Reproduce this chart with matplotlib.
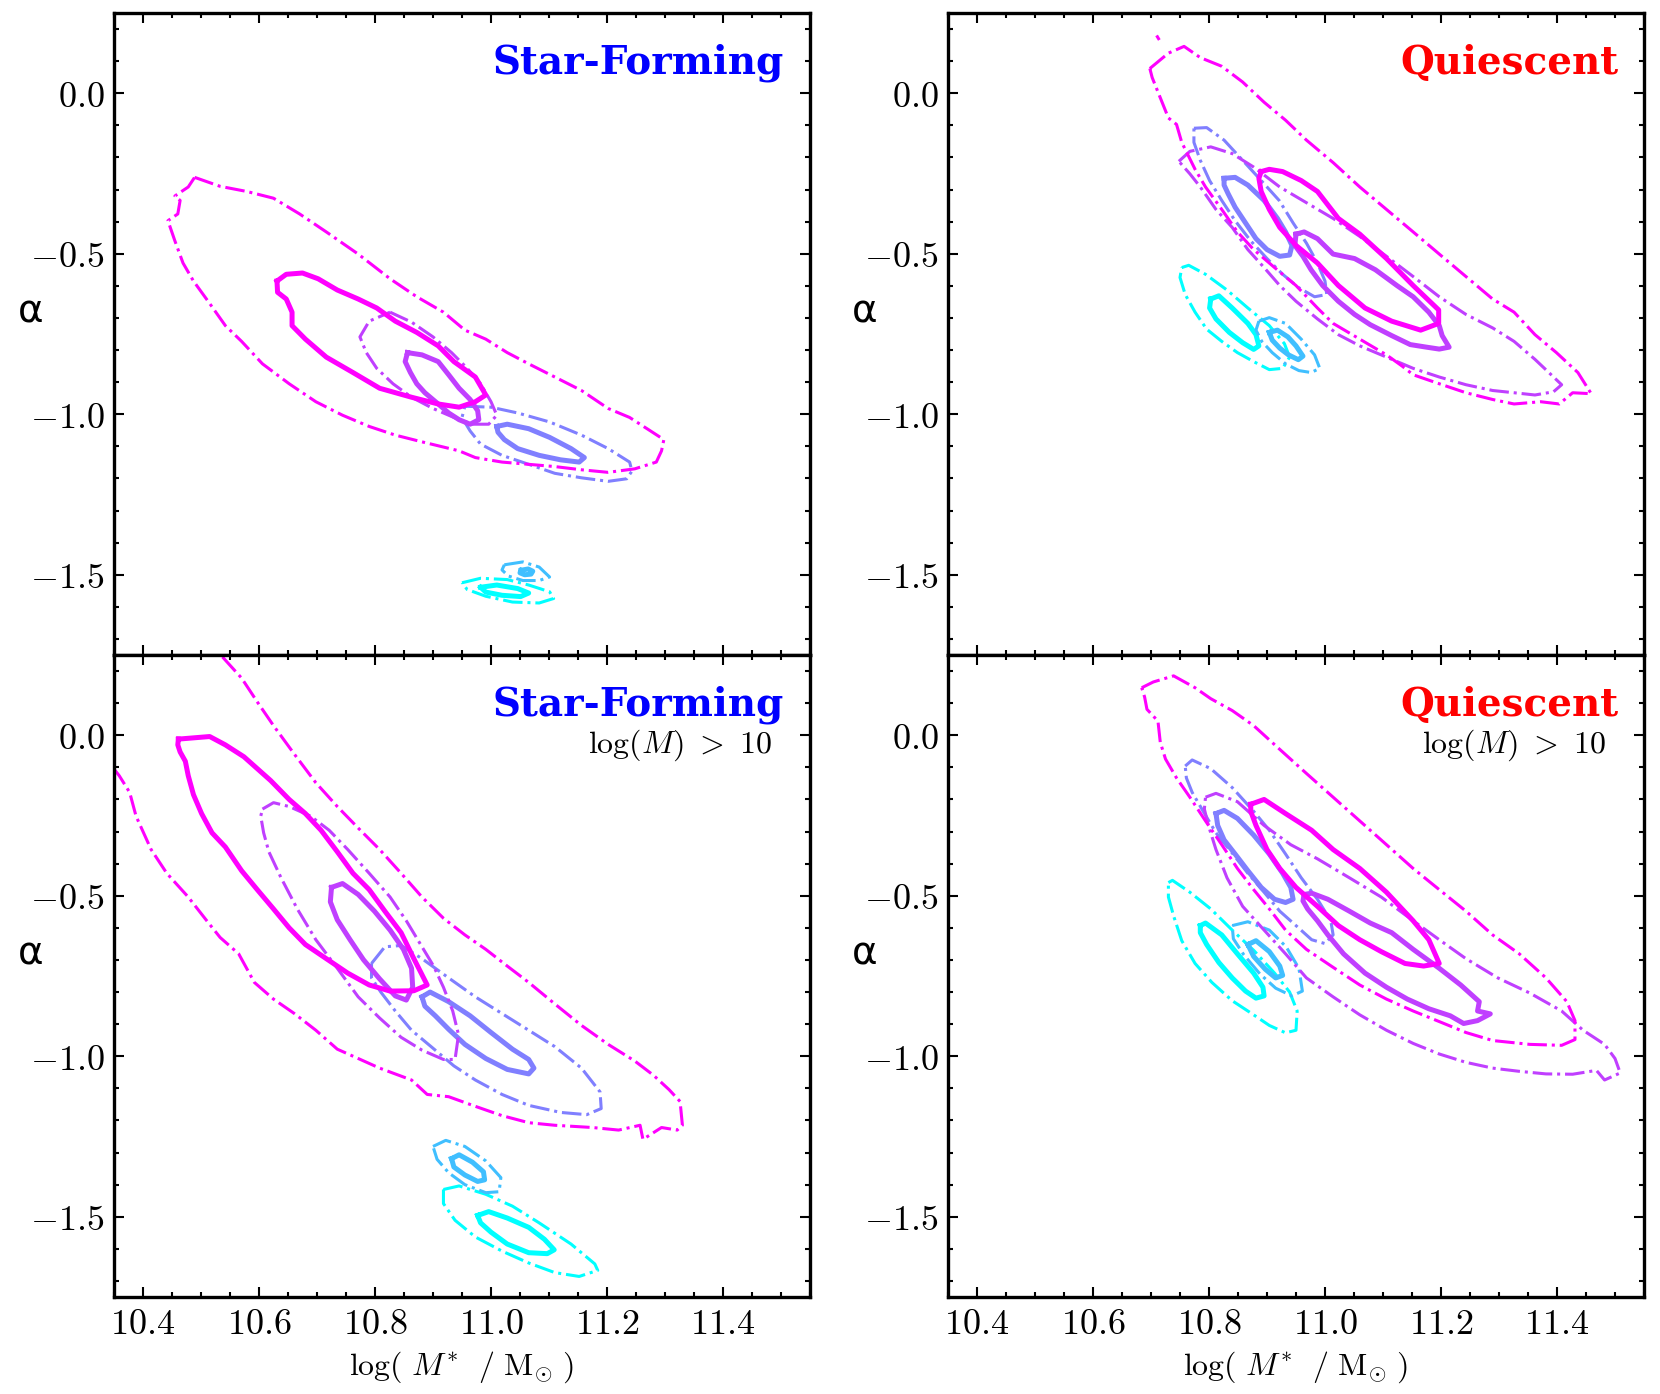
import numpy as np
import matplotlib
matplotlib.use("Agg")
import matplotlib.pyplot as plt
from matplotlib.ticker import MultipleLocator, FuncFormatter

plt.rcParams['mathtext.fontset'] = 'cm'

# contour outlines as (log M*, alpha) pairs
# colour index 0 (cyan) ... 4 (magenta); "in" = solid (inner), "out" = dash-dot (outer)

# --- star-forming, all masses ---
sf_out_0 = [(10.950, -1.525), (10.982, -1.511), (11.028, -1.515), (11.065, -1.532), (11.101, -1.553),
            (11.108, -1.574), (11.083, -1.588), (11.037, -1.585), (10.991, -1.567), (10.959, -1.546)]
sf_in_0 = [(10.982, -1.539), (11.010, -1.532), (11.046, -1.543), (11.065, -1.557), (11.051, -1.568),
           (11.019, -1.564), (10.991, -1.554)]
sf_out_1 = [(11.023, -1.469), (11.055, -1.460), (11.083, -1.476), (11.101, -1.507), (11.083, -1.518),
            (11.055, -1.518), (11.030, -1.504), (11.019, -1.485)]
sf_in_1 = [(11.052, -1.486), (11.064, -1.482), (11.072, -1.489), (11.069, -1.498), (11.058, -1.500),
           (11.050, -1.494)]
sf_out_2 = [(10.955, -0.975), (11.000, -0.978), (11.046, -0.996), (11.101, -1.024), (11.156, -1.065),
            (11.202, -1.107), (11.239, -1.149), (11.243, -1.177), (11.234, -1.201), (11.202, -1.209),
            (11.156, -1.198), (11.110, -1.184), (11.065, -1.156), (11.019, -1.128), (10.982, -1.093),
            (10.964, -1.052), (10.950, -1.010)]
sf_in_2 = [(11.010, -1.038), (11.028, -1.031), (11.065, -1.045), (11.101, -1.072), (11.138, -1.107),
           (11.161, -1.135), (11.152, -1.149), (11.120, -1.142), (11.083, -1.128), (11.046, -1.107),
           (11.023, -1.079), (11.012, -1.056)]
sf_out_3 = [(10.826, -0.682), (10.863, -0.713), (10.900, -0.759), (10.932, -0.808), (10.959, -0.857),
            (10.982, -0.905), (11.000, -0.961), (11.010, -1.003), (10.996, -1.031), (10.968, -1.031),
            (10.936, -1.010), (10.900, -0.982), (10.863, -0.947), (10.831, -0.905), (10.803, -0.857),
            (10.785, -0.808), (10.774, -0.759), (10.790, -0.710)]
sf_in_3 = [(10.856, -0.808), (10.881, -0.815), (10.909, -0.836), (10.927, -0.877), (10.945, -0.919),
           (10.964, -0.954), (10.977, -0.989), (10.979, -1.017), (10.964, -1.031), (10.945, -1.017),
           (10.927, -0.996), (10.909, -0.968), (10.886, -0.933), (10.872, -0.905), (10.861, -0.870),
           (10.852, -0.836)]
sf_out_4 = [(10.489, -0.262), (10.533, -0.290), (10.579, -0.306), (10.625, -0.327), (10.670, -0.376),
            (10.716, -0.432), (10.771, -0.501), (10.826, -0.578), (10.872, -0.634), (10.918, -0.682),
            (10.955, -0.738), (10.991, -0.766), (11.028, -0.808), (11.065, -0.843), (11.110, -0.884),
            (11.156, -0.926), (11.202, -0.982), (11.239, -1.010), (11.275, -1.052), (11.298, -1.079),
            (11.294, -1.114), (11.285, -1.149), (11.248, -1.170), (11.202, -1.181), (11.156, -1.173),
            (11.110, -1.163), (11.065, -1.156), (11.019, -1.149), (10.973, -1.135), (10.945, -1.114),
            (10.881, -1.086), (10.835, -1.065), (10.790, -1.038), (10.744, -1.003), (10.698, -0.961),
            (10.652, -0.905), (10.606, -0.843), (10.570, -0.773), (10.542, -0.724), (10.515, -0.655),
            (10.487, -0.585), (10.469, -0.529), (10.455, -0.460), (10.443, -0.397), (10.460, -0.376),
            (10.464, -0.334), (10.455, -0.320), (10.478, -0.292)]
sf_in_4 = [(10.631, -0.585), (10.647, -0.564), (10.675, -0.560), (10.702, -0.578), (10.735, -0.613),
           (10.771, -0.641), (10.803, -0.669), (10.835, -0.710), (10.872, -0.745), (10.909, -0.787),
           (10.936, -0.836), (10.973, -0.884), (10.982, -0.912), (10.991, -0.940), (10.973, -0.961),
           (10.945, -0.978), (10.909, -0.968), (10.863, -0.947), (10.808, -0.919), (10.762, -0.870),
           (10.716, -0.822), (10.680, -0.766), (10.657, -0.724), (10.657, -0.682), (10.647, -0.641),
           (10.632, -0.620)]

# --- quiescent, all masses ---
q_out_0 = [(10.753, -0.543), (10.765, -0.536), (10.794, -0.564), (10.831, -0.613), (10.867, -0.669),
           (10.904, -0.724), (10.930, -0.780), (10.939, -0.822), (10.927, -0.857), (10.904, -0.861),
           (10.877, -0.836), (10.849, -0.808), (10.822, -0.773), (10.796, -0.735), (10.776, -0.682),
           (10.759, -0.627), (10.750, -0.574)]
q_in_0 = [(10.803, -0.641), (10.817, -0.631), (10.840, -0.669), (10.867, -0.717), (10.881, -0.752),
          (10.886, -0.787), (10.877, -0.798), (10.858, -0.777), (10.835, -0.745), (10.812, -0.703),
          (10.801, -0.669)]
q_out_1 = [(10.886, -0.710), (10.904, -0.699), (10.932, -0.717), (10.959, -0.766), (10.982, -0.815),
           (10.991, -0.857), (10.976, -0.870), (10.955, -0.864), (10.932, -0.843), (10.909, -0.808),
           (10.891, -0.773), (10.881, -0.738)]
q_in_1 = [(10.904, -0.745), (10.918, -0.738), (10.936, -0.759), (10.950, -0.787), (10.962, -0.819),
          (10.954, -0.830), (10.937, -0.815), (10.922, -0.794), (10.909, -0.769)]
q_out_2 = [(10.774, -0.109), (10.796, -0.107), (10.826, -0.146), (10.858, -0.209), (10.890, -0.272),
           (10.921, -0.334), (10.945, -0.404), (10.968, -0.467), (10.987, -0.529), (11.000, -0.585),
           (11.003, -0.627), (10.982, -0.634), (10.955, -0.606), (10.927, -0.564), (10.900, -0.515),
           (10.872, -0.460), (10.845, -0.397), (10.822, -0.334), (10.801, -0.272), (10.785, -0.209),
           (10.774, -0.153)]
q_in_2 = [(10.826, -0.265), (10.845, -0.262), (10.867, -0.286), (10.895, -0.334), (10.918, -0.390),
          (10.932, -0.432), (10.943, -0.474), (10.939, -0.504), (10.922, -0.508), (10.900, -0.487),
          (10.881, -0.453), (10.863, -0.404), (10.845, -0.355), (10.833, -0.313), (10.826, -0.286)]
q_out_3 = [(10.748, -0.212), (10.767, -0.181), (10.803, -0.167), (10.840, -0.188), (10.877, -0.230),
           (10.922, -0.292), (10.968, -0.341), (11.014, -0.390), (11.060, -0.446), (11.106, -0.508),
           (11.152, -0.571), (11.197, -0.634), (11.243, -0.689), (11.289, -0.731), (11.326, -0.773),
           (11.362, -0.829), (11.390, -0.877), (11.408, -0.908), (11.394, -0.930), (11.362, -0.940),
           (11.326, -0.933), (11.289, -0.926), (11.243, -0.908), (11.197, -0.884), (11.152, -0.857),
           (11.106, -0.822), (11.060, -0.787), (11.023, -0.752), (10.987, -0.703), (10.950, -0.648),
           (10.922, -0.599), (10.895, -0.543), (10.867, -0.487), (10.840, -0.418), (10.812, -0.362),
           (10.785, -0.292), (10.767, -0.251)]
q_in_3 = [(10.950, -0.439), (10.964, -0.432), (10.987, -0.453), (11.014, -0.501), (11.051, -0.515),
          (11.087, -0.550), (11.124, -0.599), (11.152, -0.634), (11.179, -0.682), (11.197, -0.724),
          (11.202, -0.755), (11.214, -0.791), (11.197, -0.797), (11.175, -0.791), (11.147, -0.783),
          (11.115, -0.755), (11.078, -0.721), (11.051, -0.689), (11.023, -0.648), (10.996, -0.599),
          (10.976, -0.550), (10.962, -0.508), (10.948, -0.474)]
q_out_4 = [(10.698, 0.077), (10.730, 0.125), (10.757, 0.146), (10.785, 0.111), (10.822, 0.084),
           (10.858, 0.035), (10.895, -0.028), (10.932, -0.084), (10.968, -0.146), (11.014, -0.216),
           (11.060, -0.292), (11.106, -0.362), (11.152, -0.432), (11.197, -0.501), (11.243, -0.571),
           (11.289, -0.641), (11.326, -0.682), (11.362, -0.752), (11.399, -0.808), (11.436, -0.870),
           (11.459, -0.936), (11.427, -0.933), (11.404, -0.968), (11.372, -0.961), (11.326, -0.968),
           (11.289, -0.954), (11.243, -0.933), (11.197, -0.905), (11.152, -0.877), (11.133, -0.850),
           (11.106, -0.815), (11.060, -0.766), (11.014, -0.717), (10.987, -0.669), (10.950, -0.599),
           (10.913, -0.543), (10.877, -0.487), (10.849, -0.432), (10.822, -0.362), (10.794, -0.292),
           (10.776, -0.237), (10.753, -0.153), (10.744, -0.097), (10.730, -0.077), (10.716, -0.014),
           (10.702, 0.049)]
q_in_4 = [(10.890, -0.244), (10.904, -0.237), (10.927, -0.244), (10.959, -0.272), (10.987, -0.306),
          (11.023, -0.390), (11.060, -0.439), (11.106, -0.515), (11.152, -0.599), (11.196, -0.675),
          (11.196, -0.717), (11.165, -0.738), (11.115, -0.710), (11.069, -0.669), (11.023, -0.599),
          (10.987, -0.529), (10.950, -0.474), (10.922, -0.418), (10.904, -0.362), (10.890, -0.306),
          (10.886, -0.265)]
q_islet_4 = [(10.711, 0.176), (10.713, 0.170)]

# --- star-forming, log(M) > 10 ---
sf10_out_0 = [(10.918, -1.415), (10.945, -1.404), (10.991, -1.430), (11.037, -1.467), (11.083, -1.519),
              (11.138, -1.585), (11.179, -1.647), (11.184, -1.667), (11.152, -1.686), (11.110, -1.674),
              (11.065, -1.644), (11.019, -1.607), (10.973, -1.563), (10.938, -1.511), (10.918, -1.459)]
sf10_in_0 = [(10.977, -1.496), (10.996, -1.484), (11.028, -1.504), (11.065, -1.533), (11.092, -1.570),
             (11.109, -1.603), (11.097, -1.615), (11.065, -1.612), (11.028, -1.585), (11.000, -1.548),
             (10.982, -1.519)]
sf10_out_1 = [(10.900, -1.281), (10.922, -1.262), (10.955, -1.281), (10.991, -1.326), (11.017, -1.378),
              (11.014, -1.422), (10.991, -1.425), (10.955, -1.400), (10.927, -1.363), (10.907, -1.321)]
sf10_in_1 = [(10.932, -1.319), (10.945, -1.307), (10.968, -1.330), (10.987, -1.360), (10.989, -1.385),
             (10.977, -1.390), (10.955, -1.370), (10.936, -1.345)]
sf10_out_2 = [(10.794, -0.711), (10.817, -0.659), (10.845, -0.655), (10.881, -0.696), (10.927, -0.756),
              (10.973, -0.815), (11.019, -0.867), (11.065, -0.919), (11.110, -0.970), (11.156, -1.037),
              (11.188, -1.111), (11.190, -1.163), (11.165, -1.182), (11.120, -1.175), (11.065, -1.153),
              (11.019, -1.119), (10.973, -1.074), (10.936, -1.030), (10.900, -0.975), (10.863, -0.919),
              (10.835, -0.859), (10.810, -0.800), (10.794, -0.756)]
sf10_in_2 = [(10.881, -0.815), (10.895, -0.800), (10.927, -0.830), (10.964, -0.874), (11.000, -0.926),
             (11.037, -0.978), (11.065, -1.010), (11.074, -1.037), (11.065, -1.055), (11.028, -1.041),
             (10.991, -1.007), (10.955, -0.963), (10.927, -0.916), (10.904, -0.874), (10.886, -0.844)]
sf10_out_3 = [(10.606, -0.230), (10.625, -0.210), (10.652, -0.222), (10.689, -0.252), (10.721, -0.296),
              (10.753, -0.356), (10.790, -0.430), (10.826, -0.504), (10.854, -0.578), (10.881, -0.659),
              (10.901, -0.719), (10.918, -0.785), (10.934, -0.859), (10.944, -0.933), (10.938, -1.010),
              (10.918, -1.010), (10.881, -0.981), (10.845, -0.941), (10.808, -0.881), (10.771, -0.815),
              (10.735, -0.726), (10.698, -0.637), (10.666, -0.541), (10.638, -0.444), (10.617, -0.363),
              (10.608, -0.304), (10.603, -0.252)]
sf10_in_3 = [(10.725, -0.474), (10.744, -0.462), (10.771, -0.496), (10.799, -0.548), (10.826, -0.607),
             (10.849, -0.667), (10.863, -0.726), (10.865, -0.785), (10.854, -0.825), (10.835, -0.812),
             (10.808, -0.759), (10.780, -0.699), (10.757, -0.637), (10.735, -0.575), (10.723, -0.519)]
sf10_out_4 = [(10.537, 0.244), (10.570, 0.178), (10.597, 0.104), (10.625, 0.030), (10.661, -0.059),
              (10.698, -0.148), (10.735, -0.222), (10.771, -0.289), (10.808, -0.356), (10.845, -0.430),
              (10.881, -0.504), (10.918, -0.570), (10.955, -0.622), (10.991, -0.667), (11.028, -0.719),
              (11.065, -0.770), (11.110, -0.837), (11.156, -0.904), (11.202, -0.963), (11.248, -1.015),
              (11.280, -1.059), (11.307, -1.104), (11.326, -1.141), (11.330, -1.215), (11.321, -1.230),
              (11.294, -1.222), (11.262, -1.259), (11.257, -1.215), (11.220, -1.230), (11.175, -1.222),
              (11.110, -1.215), (11.065, -1.207), (11.019, -1.185), (10.973, -1.156), (10.927, -1.126),
              (10.890, -1.119), (10.863, -1.074), (10.808, -1.037), (10.771, -1.007), (10.735, -0.978),
              (10.698, -0.919), (10.661, -0.867), (10.625, -0.822), (10.592, -0.770), (10.565, -0.681),
              (10.533, -0.630), (10.510, -0.578), (10.478, -0.504), (10.441, -0.430), (10.414, -0.356),
              (10.388, -0.252), (10.377, -0.178), (10.359, -0.126), (10.285, 0.044), (10.285, 0.415),
              (10.515, 0.415)]
sf10_in_4 = [(10.461, -0.012), (10.515, -0.004), (10.542, -0.030), (10.574, -0.067), (10.597, -0.104),
             (10.620, -0.141), (10.652, -0.200), (10.680, -0.244), (10.707, -0.296), (10.735, -0.363),
             (10.762, -0.430), (10.790, -0.481), (10.817, -0.548), (10.845, -0.615), (10.867, -0.696),
             (10.890, -0.778), (10.867, -0.796), (10.826, -0.797), (10.790, -0.778), (10.753, -0.741),
             (10.716, -0.696), (10.680, -0.652), (10.652, -0.600), (10.625, -0.541), (10.597, -0.481),
             (10.570, -0.422), (10.542, -0.348), (10.519, -0.304), (10.501, -0.244), (10.487, -0.185),
             (10.478, -0.126), (10.473, -0.081), (10.464, -0.052), (10.460, -0.030)]

# --- quiescent, log(M) > 10 ---
q10_out_0 = [(10.730, -0.459), (10.737, -0.452), (10.767, -0.489), (10.803, -0.541), (10.840, -0.607),
             (10.877, -0.670), (10.913, -0.741), (10.939, -0.800), (10.952, -0.859), (10.950, -0.919),
             (10.932, -0.927), (10.904, -0.904), (10.877, -0.871), (10.840, -0.827), (10.805, -0.770),
             (10.776, -0.711), (10.753, -0.640), (10.739, -0.563), (10.730, -0.504)]
q10_in_0 = [(10.785, -0.593), (10.794, -0.585), (10.822, -0.622), (10.849, -0.681), (10.877, -0.741),
            (10.893, -0.785), (10.895, -0.812), (10.881, -0.819), (10.863, -0.797), (10.840, -0.756),
            (10.817, -0.708), (10.796, -0.652), (10.785, -0.615)]
q10_out_1 = [(10.840, -0.593), (10.867, -0.581), (10.904, -0.607), (10.933, -0.659), (10.955, -0.726),
             (10.961, -0.797), (10.943, -0.812), (10.915, -0.788), (10.888, -0.744), (10.860, -0.684),
             (10.842, -0.634)]
q10_in_1 = [(10.867, -0.652), (10.881, -0.640), (10.904, -0.674), (10.922, -0.719), (10.927, -0.748),
            (10.915, -0.756), (10.897, -0.729), (10.877, -0.689)]
q10_out_2 = [(10.759, -0.096), (10.771, -0.077), (10.803, -0.104), (10.840, -0.163), (10.877, -0.237),
             (10.904, -0.296), (10.932, -0.370), (10.959, -0.444), (10.987, -0.511), (11.010, -0.578),
             (11.014, -0.622), (11.000, -0.649), (10.977, -0.637), (10.950, -0.593), (10.922, -0.548),
             (10.895, -0.489), (10.867, -0.430), (10.840, -0.367), (10.812, -0.304), (10.790, -0.237),
             (10.771, -0.178), (10.761, -0.133)]
q10_in_2 = [(10.812, -0.244), (10.826, -0.234), (10.849, -0.259), (10.877, -0.311), (10.904, -0.370),
            (10.927, -0.430), (10.941, -0.474), (10.945, -0.511), (10.932, -0.521), (10.913, -0.511),
            (10.890, -0.474), (10.867, -0.422), (10.845, -0.370), (10.826, -0.326), (10.815, -0.281)]
q10_out_3 = [(10.794, -0.193), (10.812, -0.181), (10.849, -0.207), (10.895, -0.281), (10.941, -0.341),
             (10.987, -0.385), (11.042, -0.444), (11.097, -0.504), (11.152, -0.578), (11.197, -0.637),
             (11.243, -0.696), (11.298, -0.756), (11.353, -0.803), (11.408, -0.859), (11.445, -0.919),
             (11.482, -0.963), (11.500, -1.007), (11.509, -1.052), (11.482, -1.074), (11.468, -1.044),
             (11.427, -1.056), (11.381, -1.055), (11.335, -1.047), (11.289, -1.037), (11.243, -1.019),
             (11.197, -0.993), (11.152, -0.960), (11.106, -0.919), (11.060, -0.871), (11.014, -0.815),
             (10.968, -0.756), (10.932, -0.681), (10.895, -0.607), (10.858, -0.533), (10.831, -0.444),
             (10.812, -0.356), (10.799, -0.281), (10.792, -0.230)]
q10_in_3 = [(10.964, -0.496), (10.977, -0.492), (11.005, -0.511), (11.042, -0.548), (11.078, -0.585),
            (11.115, -0.615), (11.152, -0.667), (11.197, -0.726), (11.234, -0.778), (11.266, -0.830),
            (11.263, -0.859), (11.285, -0.868), (11.263, -0.889), (11.239, -0.898), (11.216, -0.874),
            (11.179, -0.852), (11.142, -0.822), (11.106, -0.785), (11.069, -0.741), (11.032, -0.681),
            (11.005, -0.622), (10.987, -0.578), (10.970, -0.541), (10.962, -0.516)]
q10_out_4 = [(10.684, 0.148), (10.704, 0.166), (10.739, 0.185), (10.776, 0.148), (10.803, 0.114),
             (10.840, 0.077), (10.877, 0.030), (10.922, -0.044), (10.968, -0.119), (11.014, -0.193),
             (11.060, -0.267), (11.106, -0.341), (11.152, -0.415), (11.197, -0.481), (11.243, -0.548),
             (11.289, -0.622), (11.335, -0.681), (11.381, -0.756), (11.417, -0.830), (11.431, -0.889),
             (11.431, -0.948), (11.408, -0.966), (11.353, -0.963), (11.289, -0.951), (11.243, -0.926),
             (11.197, -0.892), (11.152, -0.859), (11.106, -0.822), (11.060, -0.778), (11.014, -0.723),
             (10.968, -0.667), (10.932, -0.607), (10.904, -0.541), (10.877, -0.481), (10.849, -0.415),
             (10.822, -0.341), (10.794, -0.267), (10.767, -0.193), (10.744, -0.133), (10.725, -0.074),
             (10.716, -0.022), (10.712, 0.044), (10.693, 0.081), (10.689, 0.119)]
q10_in_4 = [(10.872, -0.215), (10.895, -0.200), (10.932, -0.244), (10.977, -0.296), (11.014, -0.356),
            (11.060, -0.415), (11.106, -0.489), (11.152, -0.578), (11.179, -0.637), (11.197, -0.711),
            (11.170, -0.719), (11.138, -0.711), (11.097, -0.674), (11.060, -0.637), (11.023, -0.593),
            (10.987, -0.533), (10.950, -0.474), (10.922, -0.415), (10.900, -0.356), (10.881, -0.281),
            (10.872, -0.237)]

panel_titles = ["Star-Forming", "Quiescent", "Star-Forming", "Quiescent"]
title_colors = ["#0000ff", "#ff0000", "#0000ff", "#ff0000"]
cut_note = r"$\mathrm{log}(M)\ >\ 10$"

panel_contours = [
    [(sf_out_0, sf_in_0), (sf_out_1, sf_in_1), (sf_out_2, sf_in_2), (sf_out_3, sf_in_3), (sf_out_4, sf_in_4)],
    [(q_out_0, q_in_0), (q_out_1, q_in_1), (q_out_2, q_in_2), (q_out_3, q_in_3), (q_out_4, q_in_4)],
    [(sf10_out_0, sf10_in_0), (sf10_out_1, sf10_in_1), (sf10_out_2, sf10_in_2), (sf10_out_3, sf10_in_3),
     (sf10_out_4, sf10_in_4)],
    [(q10_out_0, q10_in_0), (q10_out_1, q10_in_1), (q10_out_2, q10_in_2), (q10_out_3, q10_in_3),
     (q10_out_4, q10_in_4)],
]
extra_bits = {1: [(4, q_islet_4)]}

colors = plt.cm.cool(np.linspace(0, 1, 5))

W, H = 1660, 1394
fig = plt.figure(figsize=(W / 100, H / 100), dpi=100)
lefts = [114 / W, 948 / W]
bottoms = [1 - 655 / H, 1 - 1297 / H]
aw, ah = 696 / W, 642 / H


def closed(pts):
    a = np.array(pts + [pts[0]])
    return a[:, 0], a[:, 1]


for i in range(4):
    row, col = divmod(i, 2)
    ax = fig.add_axes([lefts[col], bottoms[row], aw, ah])
    for k, (outer, inner) in enumerate(panel_contours[i]):
        x, y = closed(outer)
        ax.plot(x, y, "-.", color=colors[k], lw=2.2)
        x, y = closed(inner)
        ax.plot(x, y, "-", color=colors[k], lw=3.6)
    for k, pts in extra_bits.get(i, []):
        a = np.array(pts)
        ax.plot(a[:, 0], a[:, 1], "-", color=colors[k], lw=2.2)

    ax.set_xlim(10.35, 11.55)
    ax.set_ylim(-1.75, 0.25)
    ax.xaxis.set_major_locator(MultipleLocator(0.2))
    ax.xaxis.set_minor_locator(MultipleLocator(0.05))
    ax.yaxis.set_major_locator(MultipleLocator(0.5))
    ax.yaxis.set_minor_locator(MultipleLocator(0.1))
    fmt = FuncFormatter(lambda v, p: r"$%.1f$" % v)
    ax.xaxis.set_major_formatter(fmt)
    ax.yaxis.set_major_formatter(fmt)
    ax.tick_params(which="both", direction="in", top=True, right=True, labelsize=26, width=1.5)
    ax.tick_params(which="major", length=7.5, pad=7)
    ax.tick_params(which="minor", length=3.8)
    for s in ax.spines.values():
        s.set_linewidth(2.4)

    if row == 0:
        ax.tick_params(labelbottom=False)
    else:
        ax.set_xlabel(r"$\mathrm{log(}\ M^{*}\ \ /\ \mathrm{M}_{\odot}\ )$", fontsize=23, labelpad=6)

    ax.set_ylabel("α", fontsize=28, rotation=0, ha="center", va="center")
    ax.yaxis.set_label_coords(-0.12, 0.535)

    ax.text(0.963, 0.922, panel_titles[i], transform=ax.transAxes, ha="right", va="center",
            color=title_colors[i], fontsize=28, fontweight="bold", family="DejaVu Serif")
    if row == 1:
        ax.text(0.946, 0.86, cut_note, transform=ax.transAxes, ha="right", va="center", fontsize=23)

fig.savefig("out.png", dpi=100)
print("saved out.png")
